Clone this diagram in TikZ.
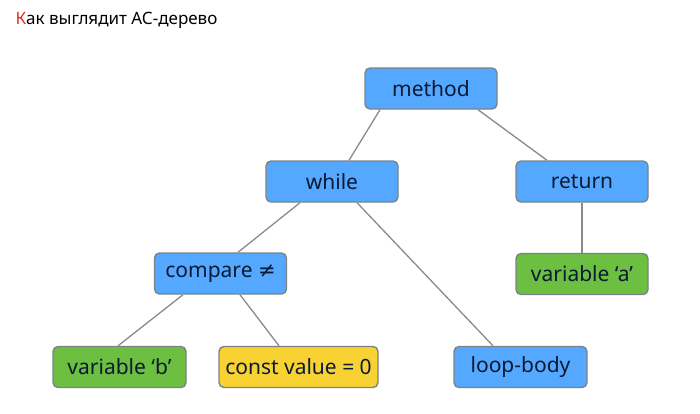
\documentclass[tikz,border=0pt]{standalone}
\usepackage{fontspec}
\setmainfont{Noto Sans}
\newfontfamily\symfont{DejaVu Sans}
\usetikzlibrary{calc}
\definecolor{bblue}{HTML}{55A8FF}
\definecolor{bgreen}{HTML}{6CBF40}
\definecolor{byellow}{HTML}{F8D232}
\definecolor{bborder}{HTML}{7A8288}
\definecolor{edgegray}{HTML}{8A8A8A}
\definecolor{txt}{HTML}{0B1A33}
\definecolor{kred}{HTML}{E0301E}
\tikzset{
  box/.style={draw=bborder, line width=1.4pt, rounded corners=5pt, minimum height=41pt,
    minimum width=132pt, inner sep=0pt, font=\fontsize{21}{24}\selectfont, text=txt},
  bluebox/.style={box, fill=bblue},
  greenbox/.style={box, fill=bgreen},
  yellowbox/.style={box, fill=byellow},
  edge/.style={draw=edgegray, line width=1.3pt}
}
\begin{document}
\begin{tikzpicture}[x=1pt,y=-1pt]
\useasboundingbox (0,0) rectangle (700,413);
\node[anchor=base west, font=\fontsize{17}{20}\selectfont, text=black] (title) at (12,24.5) {\textcolor{kred}{К}ак выглядит АС-дерево};
\node[bluebox] (method) at (431,88.5) {method};
\node[bluebox] (while) at (332,181.5) {while};
\node[bluebox] (return) at (582,181.5) {return};
\node[greenbox] (vara) at (582,274) {variable ‘a’};
\node[bluebox] (compare) at (220.5,273.5) {compare {\symfont ≠}};
\node[greenbox, minimum width=133pt] (varb) at (119.5,367) {variable ‘b’};
\node[yellowbox, minimum width=159pt] (const) at (298.5,367) {const value = 0};
\node[bluebox, minimum width=133pt] (loop) at (520.5,367) {loop-body};
\draw[edge] ([xshift=-51pt]method.south) -- ([xshift=17pt]while.north);
\draw[edge] ([xshift=47pt]method.south) -- ([xshift=-35pt]return.north);
\draw[edge] ([xshift=-32pt]while.south) -- ([xshift=17.5pt]compare.north);
\draw[edge] ([xshift=25pt]while.south) -- ([xshift=-27.5pt]loop.north);
\draw[edge] (return.south) -- (vara.north);
\draw[edge] ([xshift=-37.5pt]compare.south) -- ([xshift=-1.5pt]varb.north);
\draw[edge] ([xshift=19.5pt]compare.south) -- ([xshift=-19.5pt]const.north);
\end{tikzpicture}
\end{document}
